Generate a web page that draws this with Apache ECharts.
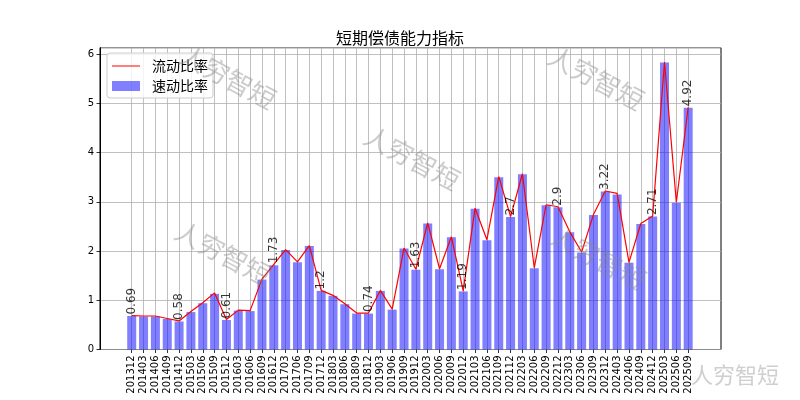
<!DOCTYPE html>
<html><head><meta charset="utf-8">
<script src="https://cdn.jsdelivr.net/npm/echarts@6/dist/echarts.min.js"></script>
<style>html,body{margin:0;padding:0;background:#fff}#c{width:800px;height:400px}</style>
</head><body><div id="c"></div>
<script>
const categories = ['201312','201403','201406','201409','201412','201503','201506','201509','201512','201603','201606','201609','201612','201703','201706','201709','201712','201803','201806','201809','201812','201903','201906','201909','201912','202003','202006','202009','202012','202103','202106','202109','202112','202203','202206','202209','202212','202303','202306','202309','202312','202403','202406','202409','202412','202503','202506','202509'];
const currentRatio = [0.69,0.68,0.68,0.63,0.58,0.77,0.95,1.15,0.61,0.80,0.79,1.43,1.73,2.03,1.78,2.11,1.20,1.10,0.93,0.74,0.74,1.20,0.82,2.06,1.63,2.57,1.64,2.29,1.19,2.87,2.23,3.51,2.70,3.57,1.66,2.94,2.90,2.39,1.98,2.74,3.22,3.17,1.77,2.56,2.71,5.84,2.99,4.92];
const quickRatio = [0.68,0.67,0.67,0.62,0.57,0.76,0.94,1.13,0.60,0.79,0.78,1.42,1.71,2.02,1.77,2.10,1.19,1.09,0.92,0.73,0.73,1.19,0.81,2.05,1.62,2.56,1.63,2.28,1.18,2.86,2.22,3.50,2.69,3.56,1.65,2.93,2.89,2.38,1.97,2.73,3.21,3.15,1.76,2.55,2.70,5.83,2.98,4.91];
const labelIndex = [0,4,8,12,16,20,24,28,32,36,40,44,47];
const yMin = 0, yMax = 6.13, yStep = 1;
const seriesNames = ['流动比率','速动比率'];
const titleText = '短期偿债能力指标';
const watermark = '人穷智短';

const chart = echarts.init(document.getElementById('c'), null, {renderer:'canvas'});
const numFont = 'DejaVu Sans';
const cjkFont = 'Noto Sans CJK SC';
const gridLine = {color:'#b0b0b0', width:0.8};
const wmStyle = {text: watermark, fill:'rgba(140,140,140,0.45)', font:'26px "Noto Sans CJK SC"', textAlign:'center', textVerticalAlign:'middle'};
const wm = (x,y,rot,size,op) => ({type:'text', x:x, y:y, rotation:rot, z:100, silent:true,
  style:Object.assign({}, wmStyle, size ? {font:size+'px "Noto Sans CJK SC"'} : {}, op ? {fill:op} : {})});
const lineIcon = 'path://M0,0L0.01,0M0,4.4L28,4.4L28,5.6L0,5.6ZM28,10L27.99,10';
const labelPoints = labelIndex.map(i => [categories[i], currentRatio[i]]);

chart.setOption({
  animation:false,
  backgroundColor:'#fff',
  title:{text:titleText, left:'center', top:25, textStyle:{fontFamily:cjkFont, fontSize:16, fontWeight:'normal', color:'#000'}},
  legend:{
    data:[{name:seriesNames[0], icon:lineIcon, itemStyle:{color:'#ff0000'}},{name:seriesNames[1], icon:'rect'}],
    orient:'vertical', left:107, top:53, padding:[6,5,5,5], itemGap:6,
    itemWidth:28, itemHeight:10,
    borderColor:'#cccccc', borderWidth:1, borderRadius:3, backgroundColor:'rgba(255,255,255,0.8)',
    textStyle:{fontFamily:cjkFont, fontSize:14, color:'#000', padding:[0,0,0,7]}
  },
  grid:[
    {left:125.8, right:105.9, top:47.7, bottom:50.5, outerBoundsMode:'none'},
    {left:100, right:79, top:47.7, bottom:50.5, show:true, borderColor:'#000', borderWidth:1, outerBoundsMode:'none'}
  ],
  xAxis:[
    {type:'category', gridIndex:0, data:categories, boundaryGap:true,
     axisLine:{show:false},
     axisTick:{show:true, alignWithLabel:true, interval:0, length:3.5, lineStyle:{color:'#000', width:0.8}},
     splitLine:{show:true, alignWithLabel:true, interval:0, lineStyle:gridLine},
     axisLabel:{interval:0, rotate:90, fontSize:10, fontFamily:numFont, color:'#000', margin:6}},
    {type:'value', gridIndex:1, min:0, max:1, show:false}
  ],
  yAxis:[
    {type:'value', gridIndex:0, min:yMin, max:yMax, show:false, splitLine:{show:false}},
    {type:'value', gridIndex:1, min:yMin, max:yMax, interval:yStep,
     axisLine:{show:true, lineStyle:{color:'#000', width:1}},
     axisTick:{show:true, length:3.5, lineStyle:{color:'#000', width:0.8}},
     axisLabel:{fontSize:10, fontFamily:numFont, color:'#000', margin:6, showMaxLabel:false},
     splitLine:{show:true, lineStyle:gridLine}}
  ],
  series:[
    {name:seriesNames[1], type:'bar', xAxisIndex:0, yAxisIndex:0, data:quickRatio, barWidth:'76%',
     itemStyle:{color:'rgba(0,0,255,0.5)'}, z:2},
    {name:seriesNames[0], type:'line', xAxisIndex:0, yAxisIndex:0, data:currentRatio, symbol:'none',
     lineStyle:{color:'#ff0000', width:1.2}, itemStyle:{color:'#ff0000'}, z:3},
    {name:'标注', type:'scatter', xAxisIndex:0, yAxisIndex:0, data:labelPoints, symbolSize:0, z:4, silent:true,
     label:{show:true, position:'top', distance:1, rotate:90, align:'left', verticalAlign:'middle',
       fontFamily:numFont, fontSize:12, color:'#000',
       formatter:p => String(p.value[1])}}
  ],
  graphic:[
    wm(228,77,-0.49),
    wm(412,158,-0.49),
    wm(596,78,-0.49),
    wm(223,253,-0.49),
    wm(598,258,-0.49),
    wm(735,375,0,22,'rgba(160,160,160,0.5)')
  ]
});
</script></body></html>
